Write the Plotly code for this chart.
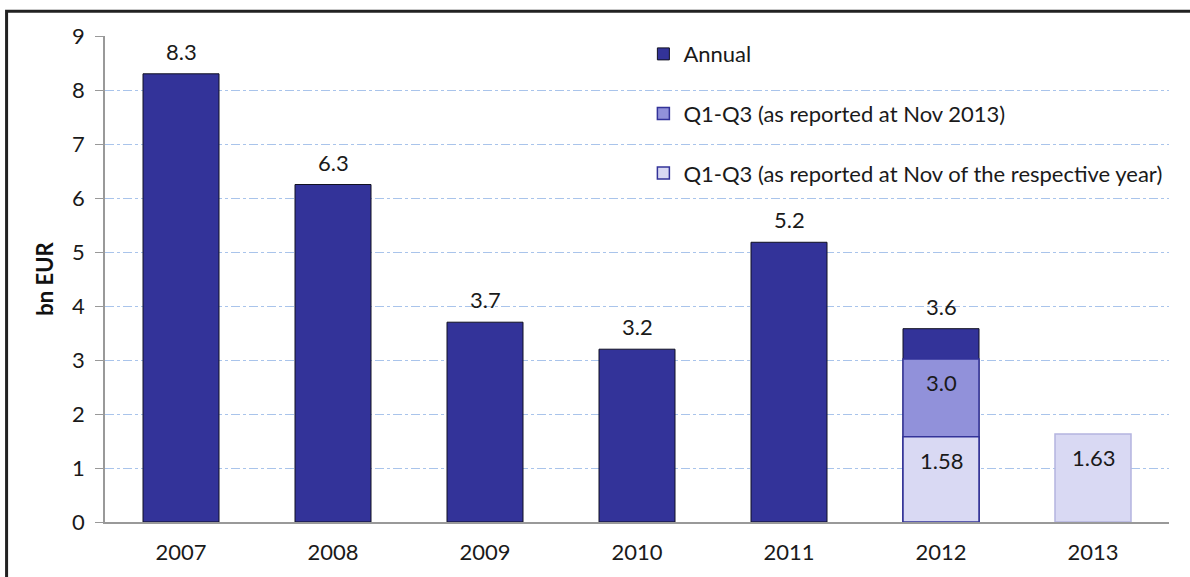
import plotly.graph_objects as go

years = ["2007", "2008", "2009", "2010", "2011", "2012", "2013"]
annual = [8.3, 6.25, 3.7, 3.2, 5.18, 3.58, None]
annual_text = ["8.3", "6.3", "3.7", "3.2", "5.2", "3.6", ""]
q13_nov2013 = [None, None, None, None, None, 3.02, None]
q13_nov2013_text = ["", "", "", "", "", "3.0", ""]
q13_respective = [None, None, None, None, None, 1.58, 1.63]
q13_respective_text = ["", "", "", "", "", "1.58", "1.63"]

font = "Lato"
fsize = 22
fig = go.Figure()

fig.add_trace(go.Bar(
    x=years, y=annual, name="Annual", width=0.5,
    marker=dict(color="#333399", line=dict(color="#111122", width=1)),
    legendgroup="a"))

fig.add_trace(go.Bar(
    x=years, y=q13_nov2013, name="Q1-Q3 (as reported at Nov 2013)", width=0.5,
    marker=dict(color="#9191DA", line=dict(color="#333399", width=1.5)),
    legendgroup="b"))

fig.add_trace(go.Bar(
    x=years, y=q13_respective, name="Q1-Q3 (as reported at Nov of the respective year)", width=0.5,
    marker=dict(color="#D9D9F3",
                line=dict(color=["#333399"] * 6 + ["#B4B4E0"], width=1.5)),
    legendgroup="c"))

# value labels: above the annual bars, inside (top) for the Q1-Q3 bars
for i, (v, t) in enumerate(zip(annual, annual_text)):
    if v is not None:
        fig.add_annotation(x=i, y=v, text=t, showarrow=False,
                           yanchor="bottom", yshift=7,
                           font=dict(size=fsize, color="#1a1a1a"))
for values, texts in [(q13_nov2013, q13_nov2013_text),
                      (q13_respective, q13_respective_text)]:
    for i, (v, t) in enumerate(zip(values, texts)):
        if v is not None:
            fig.add_annotation(x=i, y=v, text=t, showarrow=False,
                               yanchor="top", yshift=-8,
                               font=dict(size=fsize, color="#1a1a1a"))

# frame around the whole figure
fig.add_shape(type="rect", xref="paper", yref="paper",
              x0=-0.0925, x1=1.05, y0=-0.2, y1=1.051,
              line=dict(color="#222222", width=3))

fig.update_layout(
    barmode="overlay",
    width=1190, height=577,
    margin=dict(l=105, r=21, t=36, b=52),
    plot_bgcolor="white", paper_bgcolor="white",
    font=dict(family=font, size=fsize, color="#1a1a1a"),
    legend=dict(x=0.506, y=1.006, xanchor="left", yanchor="top",
                bgcolor="rgba(0,0,0,0)", tracegroupgap=28,
                itemwidth=30, font=dict(size=fsize)),
    showlegend=True)

fig.update_yaxes(range=[0, 9], dtick=1, showgrid=True,
                 gridcolor="#A9C4EB", griddash="dashdot", gridwidth=1,
                 showline=True, linecolor="#999999", linewidth=1.5,
                 ticks="outside", ticklen=8, tickcolor="#999999",
                 ticklabelstandoff=6,
                 title=dict(text="<b>bn EUR</b>", standoff=12,
                            font=dict(size=22, color="#111111")),
                 zeroline=False)

fig.update_xaxes(type="category", range=[-0.5, 6.5], showline=True,
                 linecolor="#999999", linewidth=1.5, ticks="",
                 showgrid=False, ticklabelstandoff=10)

fig.write_html("out.html", config={"displayModeBar": False},
               post_script="document.body.style.margin='0';")
